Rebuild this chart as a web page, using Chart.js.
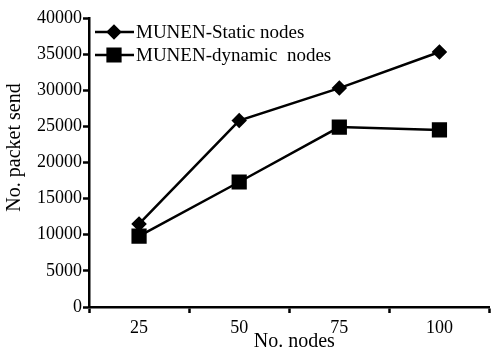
<!DOCTYPE html>
<html>
<head>
<meta charset="utf-8">
<script src="https://cdn.jsdelivr.net/npm/chart.js@4/dist/chart.umd.min.js"></script>
<style>
  html, body { margin: 0; padding: 0; background: #fff; }
  #wrap { width: 501px; height: 356px; position: relative; }
</style>
</head>
<body>
<div id="wrap"><canvas id="myChart" width="501" height="356"></canvas></div>
<script>
// Data
const nodeCounts = ['25', '50', '75', '100'];
const staticNodes = [11500, 25800, 30300, 35300];
const dynamicNodes = [9800, 17300, 24900, 24500];
const seriesNames = ['MUNEN-Static nodes', 'MUNEN-dynamic  nodes'];

const serif = "'Liberation Serif', 'Times New Roman', serif";

// Legend drawn inside the plot: short line with marker, then the name
const lineLegend = {
    id: 'lineLegend',
    afterDraw(chart) {
        const c = chart.ctx;
        const rows = [32, 55];
        c.save();
        chart.data.datasets.forEach((ds, i) => {
            const y = rows[i];
            c.strokeStyle = '#000';
            c.lineWidth = 2.5;
            c.beginPath();
            c.moveTo(95, y);
            c.lineTo(134, y);
            c.stroke();
            Chart.helpers.drawPoint(c, {
                pointStyle: ds.pointStyle,
                radius: ds.pointRadius,
                rotation: 0,
                borderWidth: 1
            }, 114, y);
            c.fillStyle = '#000';
            c.fill();
            c.font = '19px ' + serif;
            c.textBaseline = 'middle';
            c.fillText(ds.label, 136, y + 1);
        });
        c.restore();
    }
};

const ctx = document.getElementById('myChart').getContext('2d');
new Chart(ctx, {
    type: 'line',
    data: {
        labels: nodeCounts,
        datasets: [
            {
                label: seriesNames[0],
                data: staticNodes,
                borderColor: '#000',
                backgroundColor: '#000',
                borderWidth: 2.5,
                pointStyle: 'rectRot',
                pointRadius: 6,
                pointHoverRadius: 6,
                tension: 0
            },
            {
                label: seriesNames[1],
                data: dynamicNodes,
                borderColor: '#000',
                backgroundColor: '#000',
                borderWidth: 2.5,
                pointStyle: 'rect',
                pointRadius: 9,
                pointHoverRadius: 9,
                tension: 0
            }
        ]
    },
    options: {
        responsive: false,
        animation: false,
        layout: { padding: { top: 18, right: 3, left: 0, bottom: 0 } },
        plugins: { legend: { display: false }, tooltip: { enabled: false } },
        scales: {
            x: {
                offset: true,
                grid: {
                    offset: true,
                    drawOnChartArea: false,
                    tickLength: 6,
                    tickWidth: 2.5,
                    tickColor: '#000'
                },
                border: { color: '#000', width: 2.5 },
                ticks: { color: '#000', font: { family: serif, size: 18 }, padding: 4 },
                title: {
                    display: true,
                    text: '  No. nodes',
                    color: '#000',
                    font: { family: serif, size: 20 },
                    padding: { top: 0, bottom: 2 }
                },
                afterFit: s => { s.height = 49; }
            },
            y: {
                min: 0,
                max: 40000,
                ticks: {
                    stepSize: 5000,
                    color: '#000',
                    font: { family: serif, size: 18 },
                    padding: 1,
                    callback: v => String(v)
                },
                grid: {
                    drawOnChartArea: false,
                    tickLength: 6,
                    tickWidth: 2.5,
                    tickColor: '#000'
                },
                border: { color: '#000', width: 2.5 },
                title: {
                    display: true,
                    text: '      No. packet send',
                    color: '#000',
                    font: { family: serif, size: 20 },
                    padding: { top: 3, bottom: 0 }
                },
                afterFit: s => { s.width = 89; }
            }
        }
    },
    plugins: [lineLegend]
});
</script>
</body>
</html>
